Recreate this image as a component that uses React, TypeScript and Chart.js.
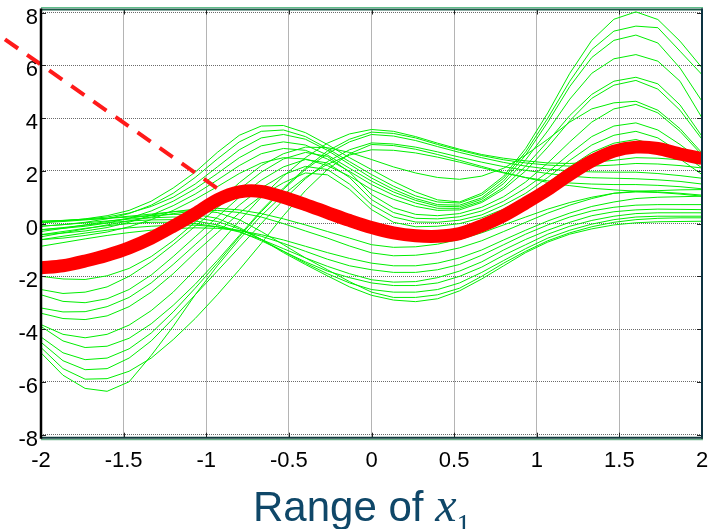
import React, { useEffect, useRef } from 'react';
import { Chart, registerables } from 'chart.js';

Chart.register(...registerables);

// x positions of the sampled curves
const xValues = [-2, -1.867, -1.733, -1.6, -1.467, -1.333, -1.2, -1.067, -0.933, -0.8, -0.667, -0.533, -0.4, -0.267, -0.133, 0, 0.133, 0.267, 0.4, 0.533, 0.667, 0.8, 0.933, 1.067, 1.2, 1.333, 1.467, 1.6, 1.733, 1.867, 2];

const xTickValues = [-2, -1.5, -1, -0.5, 0, 0.5, 1, 1.5, 2];
const yTickValues = [-8, -6, -4, -2, 0, 2, 4, 6, 8];

// thick red curve
const meanCurve = [-1.68, -1.6, -1.42, -1.2, -0.92, -0.55, -0.1, 0.38, 0.9, 1.2, 1.22, 1.0, 0.72, 0.42, 0.12, -0.15, -0.35, -0.46, -0.48, -0.38, -0.08, 0.3, 0.78, 1.29, 1.86, 2.37, 2.75, 2.9, 2.85, 2.64, 2.47];

// dashed red line
const dashX = [-2.218, -0.921];
const dashY = [6.99, 1.28];

// green sample curves: early peak, big right peak
const curveP1 = [0.05, 0.1, 0.18, 0.3, 0.5, 0.85, 1.35, 1.95, 2.7, 3.35, 3.7, 3.72, 3.45, 3.0, 2.5, 2.05, 1.6, 1.2, 0.9, 0.82, 1.15, 1.8, 2.85, 4.2, 5.7, 6.95, 7.75, 8.03, 7.74, 6.92, 5.91];
const curveP2 = [-0.1, -0.04, 0.05, 0.18, 0.38, 0.7, 1.15, 1.75, 2.45, 3.1, 3.5, 3.55, 3.3, 2.85, 2.35, 1.86, 1.42, 1.05, 0.82, 0.78, 1.08, 1.72, 2.72, 4.0, 5.4, 6.6, 7.3, 7.49, 7.43, 6.54, 5.65];
const curveP3 = [0.09, 0.12, 0.17, 0.25, 0.4, 0.65, 1.0, 1.5, 2.15, 2.8, 3.25, 3.38, 3.2, 2.78, 2.25, 1.73, 1.3, 0.95, 0.72, 0.7, 0.98, 1.62, 2.6, 3.85, 5.2, 6.3, 6.95, 7.15, 6.85, 5.9, 4.64];
const curveP4 = [-0.23, -0.18, -0.1, 0.02, 0.2, 0.48, 0.85, 1.32, 1.9, 2.5, 2.95, 3.1, 2.98, 2.6, 2.1, 1.61, 1.2, 0.88, 0.66, 0.64, 0.92, 1.52, 2.42, 3.52, 4.72, 5.7, 6.25, 6.41, 6.16, 5.4, 4.01];
const curveP5 = [-0.42, -0.36, -0.28, -0.15, 0.05, 0.32, 0.68, 1.12, 1.65, 2.2, 2.65, 2.85, 2.78, 2.45, 1.98, 1.48, 1.08, 0.78, 0.58, 0.58, 0.85, 1.38, 2.18, 3.12, 4.1, 4.9, 5.4, 5.55, 5.3, 4.5, 3.31];
const curveP6 = [-0.61, -0.55, -0.45, -0.32, -0.12, 0.15, 0.5, 0.92, 1.4, 1.9, 2.3, 2.5, 2.45, 2.2, 1.8, 1.29, 0.92, 0.65, 0.5, 0.52, 0.8, 1.3, 2.0, 2.9, 3.9, 4.75, 5.25, 5.43, 5.1, 4.3, 3.2];

// medium dip on the left, mid peak
const curveM1 = [-2.0, -2.1, -2.12, -1.98, -1.7, -1.25, -0.65, 0.05, 0.8, 1.55, 2.2, 2.65, 2.9, 2.88, 2.7, 2.43, 2.15, 1.92, 1.75, 1.68, 1.8, 2.1, 2.6, 3.2, 3.85, 4.35, 4.58, 4.64, 4.3, 3.6, 2.68];
const curveM2 = [-2.5, -2.65, -2.6, -2.4, -2.0, -1.45, -0.8, -0.1, 0.6, 1.3, 1.95, 2.45, 2.7, 2.55, 1.95, 1.1, 0.6, 0.35, 0.3, 0.38, 0.62, 1.02, 1.58, 2.3, 3.1, 3.85, 4.35, 4.52, 4.2, 3.5, 2.6];
const curveM3 = [-2.7, -2.95, -3.0, -2.85, -2.5, -1.95, -1.25, -0.5, 0.25, 1.0, 1.65, 2.15, 2.43, 2.3, 1.75, 0.91, 0.42, 0.2, 0.18, 0.26, 0.48, 0.85, 1.35, 1.95, 2.65, 3.3, 3.7, 3.82, 3.55, 3.0, 2.37];
const curveM4 = [-3.2, -3.35, -3.34, -3.15, -2.8, -2.25, -1.55, -0.8, -0.05, 0.7, 1.35, 1.85, 2.17, 2.05, 1.5, 0.72, 0.25, 0.06, 0.05, 0.13, 0.33, 0.7, 1.15, 1.75, 2.4, 2.98, 3.35, 3.5, 3.25, 2.7, 2.11];
const curveM5 = [-3.4, -3.6, -3.64, -3.5, -3.15, -2.6, -1.9, -1.1, -0.35, 0.4, 1.05, 1.55, 1.92, 1.85, 1.3, 0.53, 0.05, -0.12, -0.1, 0.0, 0.22, 0.55, 1.0, 1.55, 2.15, 2.7, 3.05, 3.19, 2.95, 2.45, 1.86];

// deep dip on the left, peak near zero
const curveD1 = [-3.83, -4.2, -4.33, -4.2, -3.85, -3.3, -2.6, -1.75, -0.85, 0.1, 1.0, 1.8, 2.5, 3.05, 3.4, 3.57, 3.5, 3.3, 3.05, 2.82, 2.62, 2.48, 2.38, 2.3, 2.28, 2.32, 2.4, 2.5, 2.48, 2.42, 2.37];
const curveD2 = [-3.9, -4.45, -4.7, -4.65, -4.35, -3.8, -3.1, -2.3, -1.4, -0.45, 0.5, 1.35, 2.1, 2.75, 3.2, 3.47, 3.42, 3.25, 3.0, 2.78, 2.58, 2.42, 2.3, 2.22, 2.18, 2.18, 2.22, 2.28, 2.26, 2.2, 2.11];
const curveD3 = [-4.3, -4.9, -5.16, -5.1, -4.75, -4.15, -3.35, -2.45, -1.5, -0.5, 0.45, 1.3, 2.05, 2.65, 3.1, 3.38, 3.32, 3.15, 2.92, 2.7, 2.5, 2.32, 2.18, 2.07, 2.0, 1.96, 1.95, 1.95, 1.9, 1.82, 1.72];
const curveD4 = [-4.5, -5.2, -5.54, -5.5, -5.1, -4.45, -3.6, -2.7, -1.8, -0.9, 0.0, 0.9, 1.7, 2.35, 2.8, 3.06, 3.02, 2.9, 2.72, 2.52, 2.33, 2.16, 2.02, 1.9, 1.8, 1.74, 1.72, 1.7, 1.66, 1.6, 1.5];
const curveD5 = [-4.7, -5.5, -5.9, -5.88, -5.6, -5.1, -4.4, -3.6, -2.7, -1.75, -0.75, 0.3, 1.25, 2.05, 2.65, 3.0, 2.96, 2.82, 2.62, 2.4, 2.17, 1.94, 1.74, 1.56, 1.44, 1.34, 1.28, 1.23, 1.2, 1.15, 1.08];
const curveD6 = [-4.9, -5.75, -6.25, -6.36, -6.0, -5.0, -3.9, -2.7, -1.6, -0.6, 0.3, 1.1, 1.75, 2.25, 2.6, 2.8, 2.78, 2.68, 2.52, 2.33, 2.12, 1.92, 1.75, 1.62, 1.54, 1.5, 1.48, 1.48, 1.45, 1.4, 1.32];

// flat on the left, dip near 0.2
const curveC1 = [0.09, 0.12, 0.16, 0.2, 0.25, 0.3, 0.35, 0.35, 0.2, -0.15, -0.6, -1.1, -1.55, -1.98, -2.4, -2.72, -2.9, -2.96, -2.85, -2.55, -2.1, -1.6, -1.1, -0.7, -0.4, -0.2, -0.05, 0.03, 0.07, 0.08, 0.09];
const curveC2 = [0.03, 0.08, 0.14, 0.2, 0.28, 0.36, 0.45, 0.5, 0.42, 0.15, -0.3, -0.8, -1.3, -1.75, -2.2, -2.6, -2.8, -2.8, -2.7, -2.45, -2.0, -1.5, -1.05, -0.65, -0.35, -0.12, 0.05, 0.15, 0.2, 0.22, 0.22];
const curveC3 = [-0.1, -0.04, 0.03, 0.1, 0.17, 0.22, 0.25, 0.22, 0.08, -0.2, -0.6, -1.05, -1.5, -1.9, -2.25, -2.5, -2.6, -2.6, -2.5, -2.25, -1.85, -1.4, -0.95, -0.55, -0.25, -0.02, 0.15, 0.25, 0.28, 0.28, 0.28];
const curveC4 = [-0.23, -0.15, -0.06, 0.03, 0.1, 0.14, 0.15, 0.1, -0.05, -0.3, -0.65, -1.05, -1.45, -1.8, -2.05, -2.25, -2.35, -2.35, -2.25, -2.0, -1.65, -1.2, -0.8, -0.4, -0.1, 0.12, 0.28, 0.38, 0.41, 0.41, 0.41];
const curveC5 = [-0.42, -0.3, -0.18, -0.08, 0.0, 0.05, 0.05, 0.0, -0.12, -0.32, -0.6, -0.95, -1.3, -1.62, -1.9, -2.13, -2.22, -2.2, -2.05, -1.8, -1.45, -1.0, -0.6, -0.25, 0.05, 0.3, 0.45, 0.52, 0.55, 0.54, 0.53];
const curveC6 = [-0.61, -0.48, -0.36, -0.25, -0.16, -0.1, -0.06, -0.06, -0.12, -0.26, -0.48, -0.75, -1.05, -1.35, -1.6, -1.75, -1.85, -1.85, -1.75, -1.55, -1.2, -0.8, -0.4, -0.05, 0.25, 0.48, 0.62, 0.7, 0.72, 0.72, 0.72];
const curveC7 = [-0.86, -0.72, -0.58, -0.45, -0.34, -0.25, -0.19, -0.16, -0.18, -0.26, -0.42, -0.62, -0.86, -1.1, -1.32, -1.5, -1.6, -1.6, -1.5, -1.3, -1.0, -0.62, -0.25, 0.1, 0.4, 0.65, 0.82, 0.95, 1.0, 1.02, 1.04];
const curveC8 = [-0.5, -0.35, -0.2, -0.05, 0.1, 0.25, 0.38, 0.48, 0.5, 0.42, 0.25, 0.0, -0.28, -0.55, -0.85, -1.11, -1.22, -1.2, -1.1, -0.92, -0.65, -0.3, 0.05, 0.4, 0.7, 0.95, 1.15, 1.23, 1.25, 1.28, 1.29];
const curveC9 = [-0.3, -0.18, -0.05, 0.08, 0.2, 0.32, 0.45, 0.55, 0.58, 0.52, 0.38, 0.18, -0.05, -0.3, -0.55, -0.8, -0.9, -0.88, -0.78, -0.6, -0.35, -0.05, 0.25, 0.55, 0.8, 1.0, 1.15, 1.2, 1.18, 1.12, 1.04];

const greenCurves = [
  curveP1, curveP2, curveP3, curveP4, curveP5, curveP6,
  curveM1, curveM2, curveM3, curveM4, curveM5,
  curveD1, curveD2, curveD3, curveD4, curveD5, curveD6,
  curveC1, curveC2, curveC3, curveC4, curveC5, curveC6, curveC7, curveC8, curveC9,
];

const toPoints = (ys: number[]) => xValues.map((x, i) => ({ x, y: ys[i] }));

const framePlugin = {
  id: 'matlabFrame',
  afterDraw(chart: any) {
    const { ctx, chartArea: a } = chart;
    const xs = chart.scales.x;
    const ys = chart.scales.y;
    ctx.save();
    ctx.setLineDash([]);
    ctx.strokeStyle = '#222';
    ctx.lineWidth = 1;
    ctx.beginPath();
    xs.ticks.forEach((t: any) => {
      const p = Math.round(xs.getPixelForValue(t.value)) + 0.5;
      ctx.moveTo(p, a.bottom);
      ctx.lineTo(p, a.bottom - 5);
      ctx.moveTo(p, a.top);
      ctx.lineTo(p, a.top + 5);
    });
    ys.ticks.forEach((t: any) => {
      const p = Math.round(ys.getPixelForValue(t.value)) + 0.5;
      ctx.moveTo(a.left, p);
      ctx.lineTo(a.left + 5, p);
      ctx.moveTo(a.right, p);
      ctx.lineTo(a.right - 5, p);
    });
    ctx.stroke();

    const seg = (x1: number, y1: number, x2: number, y2: number, color: string, w: number) => {
      ctx.beginPath();
      ctx.strokeStyle = color;
      ctx.lineWidth = w;
      ctx.moveTo(x1, y1);
      ctx.lineTo(x2, y2);
      ctx.stroke();
    };
    seg(a.left, a.top - 2, a.right + 1, a.top - 2, '#5fbf8a', 1);
    seg(a.left, a.top, a.right + 1, a.top, '#1d5a48', 2);
    seg(a.right, a.top - 1, a.right, a.bottom + 1, '#0d3341', 2);
    seg(a.left, a.bottom, a.right + 1, a.bottom, '#123b3e', 2);
    seg(a.left, a.bottom + 2, a.right + 1, a.bottom + 2, '#4aa070', 1);
    seg(a.left, a.top - 1, a.left, a.bottom + 1, '#000000', 2.5);
    ctx.restore();
  },
};

export default function App() {
  const canvasRef = useRef<HTMLCanvasElement | null>(null);

  useEffect(() => {
    const canvas = canvasRef.current;
    if (!canvas) return;

    const tickFont = { family: '"Liberation Sans", Arial, sans-serif', size: 22 };

    const datasets: any[] = [
      {
        data: toPoints(meanCurve),
        borderColor: '#ff0000',
        borderWidth: 13,
        pointRadius: 0,
        tension: 0.3,
        borderJoinStyle: 'round',
        borderCapStyle: 'butt',
      },
      {
        data: dashX.map((x, i) => ({ x, y: dashY[i] })),
        borderColor: '#ff1a1a',
        borderWidth: 4,
        borderDash: [16, 11],
        pointRadius: 0,
        clip: false,
      },
      ...greenCurves.map((ys) => ({
        data: toPoints(ys),
        borderColor: '#00ee00',
        borderWidth: 1,
        pointRadius: 0,
        tension: 0,
      })),
    ];

    const chart = new Chart(canvas, {
      type: 'line',
      data: { datasets },
      options: {
        animation: false,
        responsive: false,
        events: [],
        layout: { padding: { left: 0, right: 10, top: 9.5, bottom: 0 } },
        plugins: {
          legend: { display: false },
          tooltip: { enabled: false },
          title: { display: false },
        },
        scales: {
          x: {
            type: 'linear',
            min: -2,
            max: 2,
            afterBuildTicks: (s: any) => {
              s.ticks = xTickValues.map((v) => ({ value: v }));
            },
            afterFit: (s: any) => {
              s.height = 91.3;
              s.paddingLeft = 0;
              s.paddingRight = 0;
            },
            grid: { color: '#6a6a6a', lineWidth: 1, drawTicks: false },
            border: { display: false, dash: [1, 1] },
            ticks: {
              color: '#000',
              font: tickFont,
              padding: 10,
              maxRotation: 0,
              autoSkip: false,
              callback: (v: any) => String(v),
            },
          },
          y: {
            type: 'linear',
            min: -8.12,
            max: 8.12,
            afterBuildTicks: (s: any) => {
              s.ticks = yTickValues.map((v) => ({ value: v }));
            },
            afterFit: (s: any) => {
              s.width = 41;
              s.paddingTop = 0;
              s.paddingBottom = 0;
            },
            grid: { color: '#6a6a6a', lineWidth: 1, drawTicks: false },
            border: { display: false, dash: [1, 1] },
            ticks: {
              color: '#000',
              font: tickFont,
              padding: 3,
              labelOffset: 5,
              autoSkip: false,
              callback: (v: any) => String(v),
            },
          },
        },
      } as any,
      plugins: [framePlugin],
    });

    return () => chart.destroy();
  }, []);

  return (
    <div
      style={{
        position: 'absolute',
        left: 0,
        top: 0,
        width: 712,
        height: 529,
        overflow: 'hidden',
        background: '#ffffff',
      }}
    >
      <canvas ref={canvasRef} width={712} height={529} style={{ display: 'block' }} />
      <div
        style={{
          position: 'absolute',
          left: 253,
          top: 484,
          fontFamily: '"Liberation Sans", Arial, sans-serif',
          fontSize: 42,
          lineHeight: '42px',
          color: '#0f4768',
          whiteSpace: 'nowrap',
        }}
      >
        Range of{' '}
        <span style={{ fontFamily: '"Liberation Serif", "Times New Roman", serif', fontStyle: 'italic', fontSize: 48 }}>x</span>
        <span
          style={{
            fontFamily: '"Liberation Serif", "Times New Roman", serif',
            fontSize: 28,
            position: 'relative',
            top: 12,
          }}
        >
          1
        </span>
      </div>
    </div>
  );
}
